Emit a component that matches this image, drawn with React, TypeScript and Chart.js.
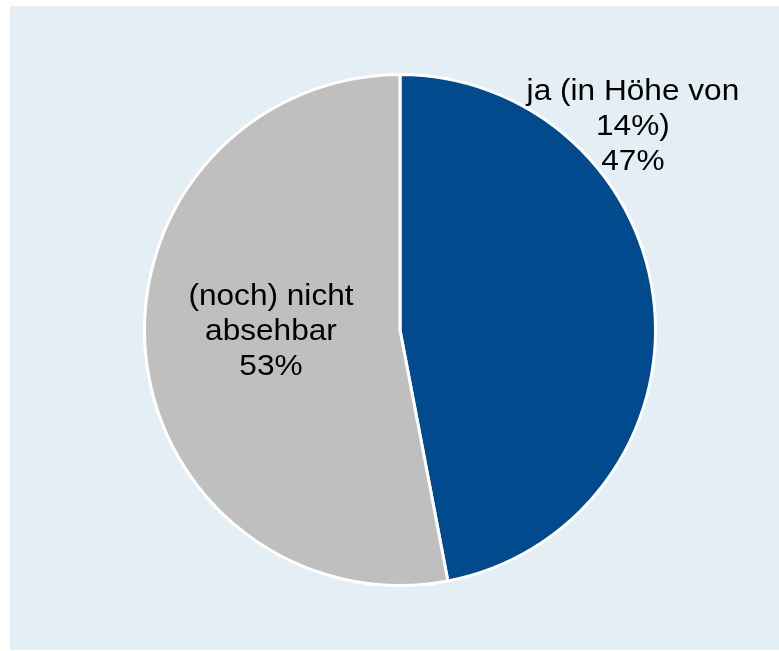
import React, { useEffect, useRef } from "react";
import { Chart, registerables } from "chart.js";

Chart.register(...registerables);

const categories: string[][] = [["ja (in Höhe von", "14%)"], ["(noch) nicht", "absehbar"]];
const shares: number[] = [47, 53];
const sliceColors: string[] = ["#004A8D", "#BFBFBF"];

// label anchors relative to pie center, in units of outer radius (x, baseline of middle line)
const labelAnchors = [
  { fx: 0.917, fy: -0.766 },
  { fx: -0.508, fy: 0.041 },
];

const labelPlugin = {
  id: "pieLabels",
  afterDatasetsDraw(chart: any) {
    const meta = chart.getDatasetMeta(0);
    const ctx = chart.ctx;
    ctx.save();
    ctx.font = '29px "Liberation Sans", Arial, sans-serif';
    ctx.fillStyle = "#000000";
    ctx.textAlign = "center";
    ctx.textBaseline = "alphabetic";
    meta.data.forEach((arc: any, i: number) => {
      const r = 254;
      const ax = arc.x + labelAnchors[i].fx * r;
      const ay = arc.y + labelAnchors[i].fy * r;
      const lines = [...categories[i], shares[i] + "%"];
      const lh = 35;
      lines.forEach((ln, k) => {
        const y = ay + (k - 1) * lh;
        ctx.save();
        ctx.translate(ax, y);
        ctx.scale(1.09, 1);
        ctx.fillText(ln, 0, 0);
        ctx.restore();
      });
    });
    ctx.restore();
  },
};

export default function App() {
  const ref = useRef<HTMLCanvasElement>(null);
  useEffect(() => {
    const chart = new Chart(ref.current!, {
      type: "pie",
      data: {
        labels: categories.map((c) => c.join(" ")),
        datasets: [
          {
            data: shares,
            backgroundColor: sliceColors,
            borderColor: "#FFFFFF",
            borderWidth: 3,
          },
        ],
      },
      options: {
        animation: false,
        responsive: false,
        maintainAspectRatio: false,
        layout: { padding: { left: 133, top: 67, right: 122, bottom: 63 } },
        plugins: {
          legend: { display: false },
          tooltip: { enabled: false },
        },
      },
      plugins: [labelPlugin],
    });
    return () => chart.destroy();
  }, []);
  return (
    <div
      style={{
        position: "absolute",
        left: 10,
        top: 6,
        width: 769,
        height: 644,
        background: "#E4EEF5",
      }}
    >
      <canvas ref={ref} width={769} height={644} style={{ display: "block" }} />
    </div>
  );
}
